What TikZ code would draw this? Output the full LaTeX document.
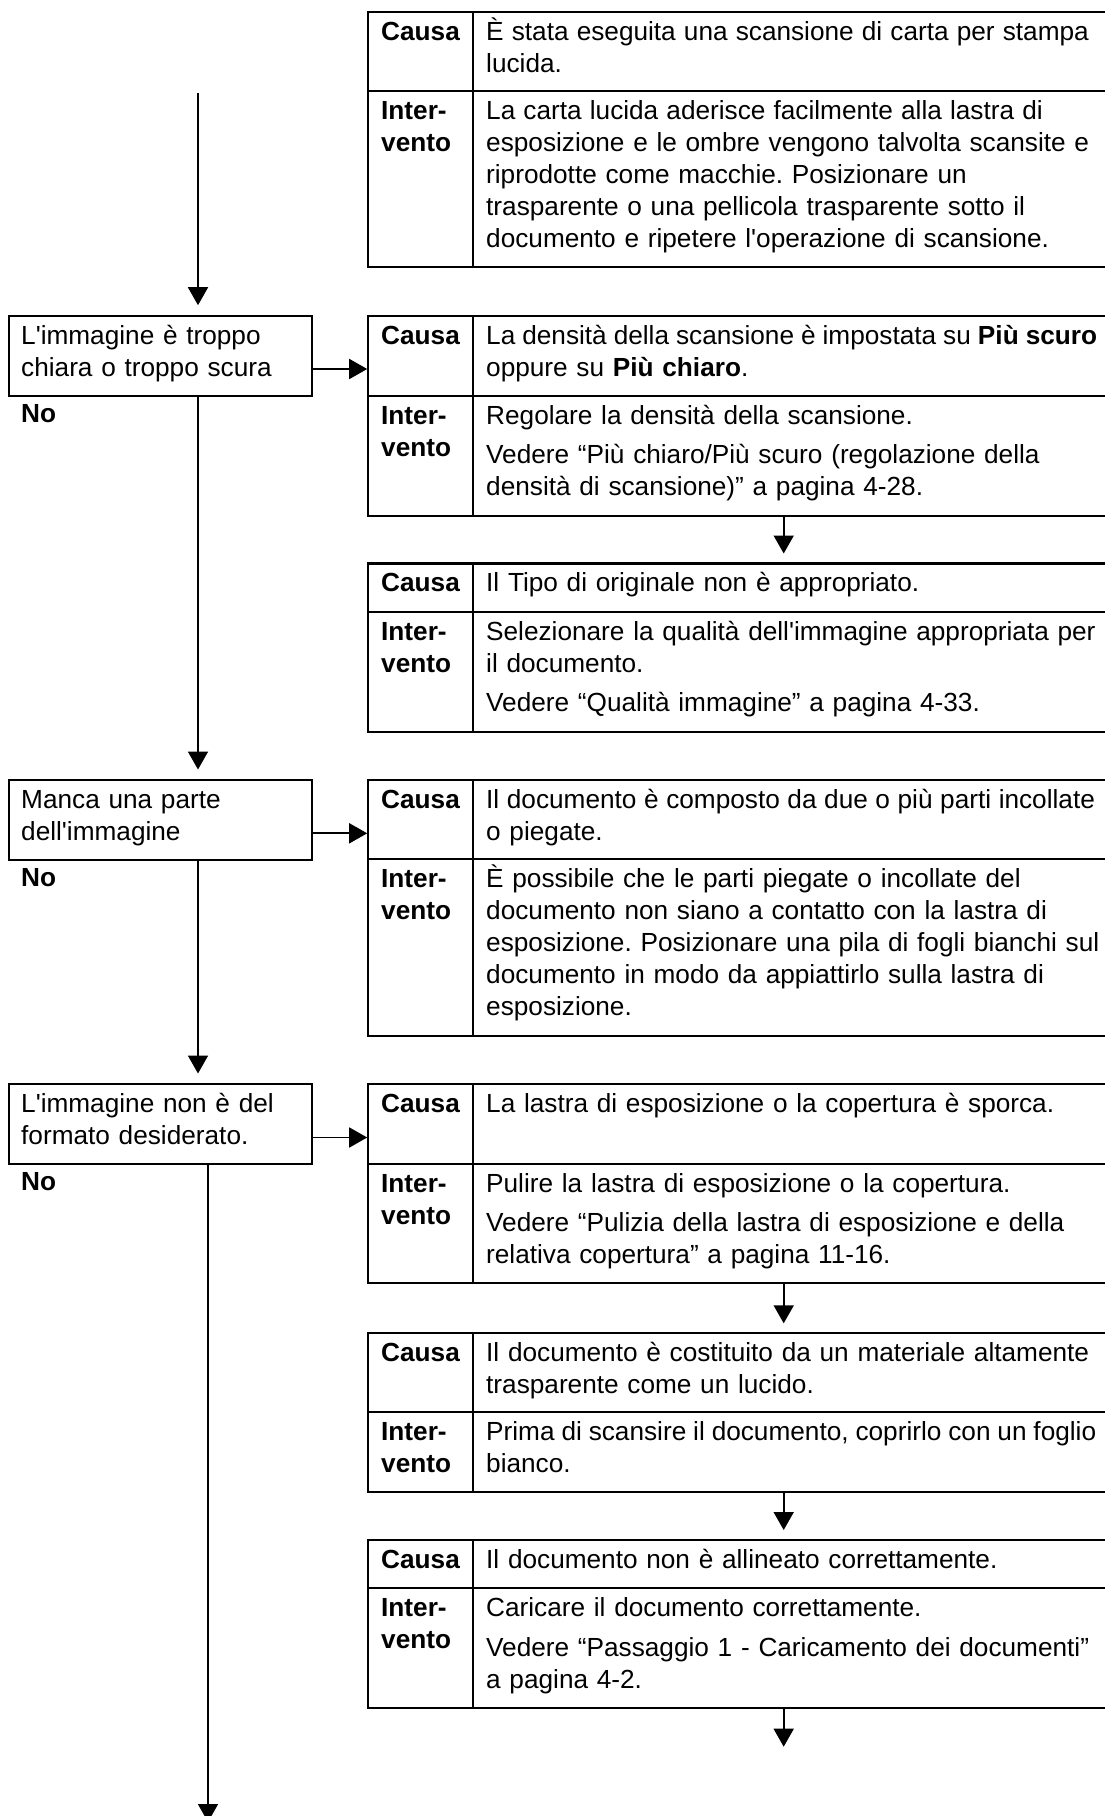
\documentclass[tikz,border=0pt]{standalone}
\usepackage{fontspec}
\newfontfamily\docfont{Liberation Sans}
\usetikzlibrary{arrows.meta}
\frenchspacing

% table frame: name, top, row split, bottom (y grows downward)
\newcommand\drawtable[4]{%
  \node[tbl, minimum height={#4-#2}] (#1) at (368.3,#2) {};
  \draw[rowrule] (368.3,#3) -- (1106,#3);
  \draw[divider] (473.3,#2) -- (473.3,#4);
}
% vertical gap between two paragraphs of one cell
\newcommand\pargap{\\[7.5pt]}
% one line set with a narrower interword space
\newcommand\tightline[2]{{\spaceskip=#1\relax #2}}

\begin{document}
\begin{tikzpicture}[x=1pt,y=-1pt,
  tbl/.style={draw, line width=2.2pt, anchor=north west, minimum width=737.7pt, inner sep=0pt, outer sep=0pt},
  qbox/.style={draw, line width=2pt, anchor=north west, minimum width=303.3pt, minimum height=80pt, inner sep=0pt, outer sep=0pt},
  txt/.style={anchor=base west, inner sep=0pt, align=left, text width=700pt, font=\docfont\frenchspacing\fontsize{26.2}{32}\selectfont},
  lbl/.style={txt, text width=90pt, font=\docfont\bfseries\fontsize{26.2}{32}\selectfont},
  rowrule/.style={line width=2.2pt},
  divider/.style={line width=1.8pt},
  conn/.style={line width=1.7pt},
  arr/.style={conn, -{Triangle[length=18pt,width=20pt]}},
]
\fill[white] (0,0) rectangle (1104,1816);
\useasboundingbox (0,0) rectangle (1104,1816);

% ---------- cause / remedy tables ----------
\drawtable{t1}{12.3}{90.7}{267}
\drawtable{t2}{315.7}{395.7}{515.7}
\drawtable{t3}{563.5}{611.7}{731.7}
\drawtable{t4}{780}{859.3}{1035.7}
\drawtable{t5}{1084}{1164}{1283.3}
\drawtable{t6}{1333.3}{1411.7}{1491.7}
\drawtable{t7}{1540}{1588.3}{1708}

% table 1
\node[lbl] (c1l) at (381,40.5) {Causa};
\node[txt] (c1t) at (486,40.5) {\tightline{8.15pt}{È stata eseguita una scansione di carta per stampa}\\lucida.};
\node[lbl] (i1l) at (381,119) {Inter-\\vento};
\node[txt] (i1t) at (486,119) {\tightline{8.15pt}{La carta lucida aderisce facilmente alla lastra di}\\esposizione e le ombre vengono talvolta scansite e\\riprodotte come macchie. Posizionare un\\trasparente o una pellicola trasparente sotto il\\documento e ripetere l'operazione di scansione.};

% table 2
\node[lbl] (c2l) at (381,344) {Causa};
\node[txt] (c2t) at (486,344) {\tightline{7.0pt}{La densità della scansione è impostata su \textbf{Più scuro}}\\oppure su \textbf{Più chiaro}.};
\node[lbl] (i2l) at (381,424) {Inter-\\vento};
\node[txt] (i2t) at (486,424) {Regolare la densità della scansione.\pargap Vedere “Più chiaro/Più scuro (regolazione della\\densità di scansione)” a pagina 4-28.};

% table 3
\node[lbl] (c3l) at (381,591.8) {Causa};
\node[txt] (c3t) at (486,591.8) {Il Tipo di originale non è appropriato.};
\node[lbl] (i3l) at (381,640) {Inter-\\vento};
\node[txt] (i3t) at (486,640) {Selezionare la qualità dell'immagine appropriata per\\il documento.\pargap Vedere “Qualità immagine” a pagina 4-33.};

% table 4
\node[lbl] (c4l) at (381,808.3) {Causa};
\node[txt] (c4t) at (486,808.3) {\tightline{7.6pt}{Il documento è composto da due o più parti incollate}\\o piegate.};
\node[lbl] (i4l) at (381,887.6) {Inter-\\vento};
\node[txt] (i4t) at (486,887.6) {È possibile che le parti piegate o incollate del\\documento non siano a contatto con la lastra di\\esposizione. Posizionare una pila di fogli bianchi sul\\documento in modo da appiattirlo sulla lastra di\\esposizione.};

% table 5
\node[lbl] (c5l) at (381,1112.3) {Causa};
\node[txt] (c5t) at (486,1112.3) {La lastra di esposizione o la copertura è sporca.};
\node[lbl] (i5l) at (381,1192.3) {Inter-\\vento};
\node[txt] (i5t) at (486,1192.3) {Pulire la lastra di esposizione o la copertura.\pargap Vedere “Pulizia della lastra di esposizione e della\\relativa copertura” a pagina 11-16.};

% table 6
\node[lbl] (c6l) at (381,1361.6) {Causa};
\node[txt] (c6t) at (486,1361.6) {Il documento è costituito da un materiale altamente\\trasparente come un lucido.};
\node[lbl] (i6l) at (381,1440) {Inter-\\vento};
\node[txt] (i6t) at (486,1440) {\tightline{6.9pt}{Prima di scansire il documento, coprirlo con un foglio}\\bianco.};

% table 7
\node[lbl] (c7l) at (381,1568.3) {Causa};
\node[txt] (c7t) at (486,1568.3) {Il documento non è allineato correttamente.};
\node[lbl] (i7l) at (381,1616.6) {Inter-\\vento};
\node[txt] (i7t) at (486,1616.6) {Caricare il documento correttamente.\pargap Vedere “Passaggio 1 - Caricamento dei documenti”\\a pagina 4-2.};

% ---------- symptom boxes ----------
\node[qbox] (b1) at (9,315.7) {};
\node[txt] (b1t) at (21,344) {L'immagine è troppo\\chiara o troppo scura};
\node[lbl] (no1) at (21,422.5) {No};

\node[qbox] (b2) at (9,780) {};
\node[txt] (b2t) at (21,808.3) {Manca una parte\\dell'immagine};
\node[lbl] (no2) at (21,886) {No};

\node[qbox] (b3) at (9,1084) {};
\node[txt] (b3t) at (21,1112.3) {L'immagine non è del\\formato desiderato.};
\node[lbl] (no3) at (21,1190.8) {No};

% ---------- connectors ----------
\coordinate (top) at (198,93.3);
\coordinate (x1) at (198,0);
\coordinate (x3) at (208,0);
\coordinate (cx) at (783.7,0);
\coordinate (y1) at (0,369);
\coordinate (y2) at (0,833.3);
\coordinate (y3) at (0,1137.5);
\coordinate (bottomleft) at (208,1822);
\coordinate (bottomright) at (783.7,1746.7);

% main "No" path
\draw[arr, shorten >=10.5pt] (top) -- (b1.north -| top);
\draw[arr, shorten >=10.5pt] (b1.south -| x1) -- (b2.north -| x1);
\draw[arr, shorten >=10.5pt] (b2.south -| x1) -- (b3.north -| x1);
\draw[arr] (b3.south -| x3) -- (bottomleft);

% symptom -> cause
\draw[arr, shorten >=1.1pt] (b1.east |- y1) -- (t2.west |- y1);
\draw[arr, shorten >=1.1pt] (b2.east |- y2) -- (t4.west |- y2);
\draw[arr, shorten >=1.1pt] (b3.east |- y3) -- (t5.west |- y3);

% cause -> next cause
\draw[arr, shorten >=10pt] (t2.south -| cx) -- (t3.north -| cx);
\draw[arr, shorten >=10pt] (t5.south -| cx) -- (t6.north -| cx);
\draw[arr, shorten >=10pt] (t6.south -| cx) -- (t7.north -| cx);
\draw[arr] (t7.south -| cx) -- (bottomright);
\end{tikzpicture}
\end{document}
